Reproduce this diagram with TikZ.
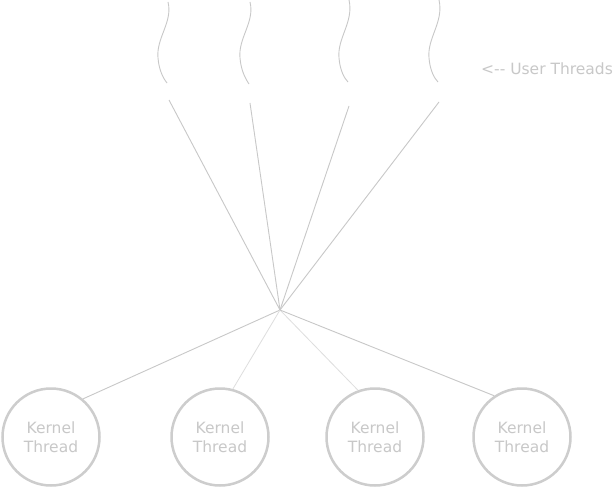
\documentclass[tikz,border=0pt]{standalone}
\usepackage{fontspec}
\setmainfont{DejaVu Sans}
\definecolor{txtgray}{RGB}{200,200,200}
\definecolor{ringgray}{RGB}{205,205,205}
\definecolor{linegray}{RGB}{200,200,200}
\definecolor{lightline}{RGB}{222,222,222}
\begin{document}
\begin{tikzpicture}[x=1pt,y=-1pt,
  kthread/.style={circle, draw=ringgray, line width=2.5pt, minimum size=97pt, inner sep=0pt,
    text=txtgray, align=center, font=\fontsize{15.5}{19.5}\selectfont},
  conn/.style={draw=linegray, line width=0.9pt},
  lconn/.style={draw=lightline, line width=0.8pt},
  squig/.style={draw=linegray, line width=0.9pt},
  lbl/.style={text=txtgray, font=\fontsize{15.5}{19}\selectfont, inner sep=0pt, anchor=west}]
\useasboundingbox (0,0) rectangle (615,489);
\fill[white] (0,0) rectangle (615,489);

% kernel threads
\node[kthread] (k1) at (51,437) {Kernel\\Thread};
\node[kthread] (k2) at (220,437) {Kernel\\Thread};
\node[kthread] (k3) at (375,437) {Kernel\\Thread};
\node[kthread] (k4) at (522,437) {Kernel\\Thread};

% hub
\coordinate (hub) at (280,310);

% user thread line ends
\coordinate (u1) at (169,100);
\coordinate (u2) at (250,103);
\coordinate (u3) at (349,106);
\coordinate (u4) at (439,102);

% squiggles
\foreach \x/\t/\b in {168/2/83, 250/2/84, 349/0/82, 439/0/82}{
  \draw[squig] (\x,\t) .. controls (\x+5,22) and (\x-12,38) .. (\x-10,58)
     .. controls (\x-9,70) and (\x-5,78) .. (\x-1,\b);
}

% connectors up
\draw[conn] (hub) -- (u1);
\draw[conn] (hub) -- (u2);
\draw[conn] (hub) -- (u3);
\draw[conn] (hub) -- (u4);

% connectors down
\draw[conn] (hub) -- (k1.50);
\draw[lconn] (hub) -- (k2.75);
\draw[lconn] (hub) -- (k3.110);
\draw[conn] (hub) -- (k4.124);

% label
\node[lbl] (ut) at (481,68.5) {<-{}- User Threads};
\end{tikzpicture}
\end{document}
